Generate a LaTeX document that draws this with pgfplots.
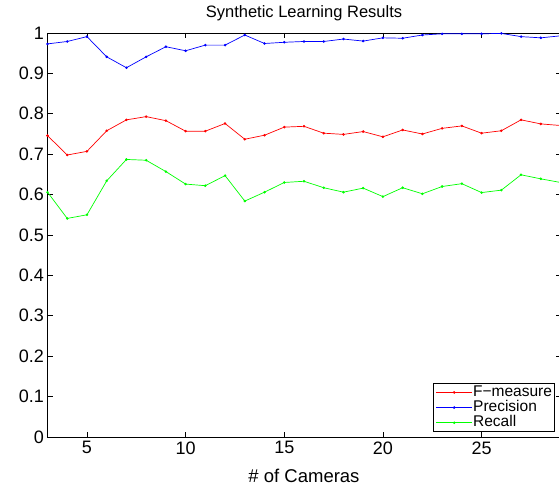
\documentclass[border=0pt]{standalone}
\usepackage{pgfplots}
\pgfplotsset{compat=1.18}
\usepackage{fontspec}
\setmainfont{Liberation Sans}
\begin{document}
\begin{tikzpicture}
\begin{axis}[
  scale only axis, width=513pt, height=404pt,
  xmin=3, xmax=29, ymin=0, ymax=1,
  xtick={5,10,15,20,25},
  ytick={0,0.1,0.2,0.3,0.4,0.5,0.6,0.7,0.8,0.9,1},
  yticklabels={0,0.1,0.2,0.3,0.4,0.5,0.6,0.7,0.8,0.9,1},
  tick align=inside, tick pos=both, major tick length=5pt,
  axis line style={line width=0.8pt}, every tick/.style={line width=0.6pt, black},
  /pgf/number format/assume math mode=true,
  ticklabel style={font=\fontsize{18}{20}\selectfont},
  xticklabel style={yshift=-1pt},
  title={Synthetic Learning Results},
  title style={at={(0.5,1)}, anchor=base, yshift=9pt, font=\fontsize{16.5}{18}\selectfont},
  xlabel={\# of Cameras},
  xlabel style={at={(0.5,0)}, anchor=base, yshift=-46pt, font=\fontsize{18.5}{20}\selectfont},
  legend style={at={(1,0)}, anchor=south east, xshift=-5.5pt, yshift=5pt,
    font=\fontsize{15.5}{15.5}\selectfont, draw=black, line width=0.8pt,
    inner xsep=2pt, inner ysep=1.2pt, row sep=0pt,
    nodes={inner sep=0.6pt, text height=10.8pt, text depth=3.2pt}},
  legend cell align=left,
  legend image code/.code={\draw[mark repeat=2,mark phase=2,#1] plot coordinates {(0pt,0pt)(18pt,0pt)(36pt,0pt)};},
  every axis plot/.append style={line width=0.7pt, mark=*, mark size=0.9pt},
]
\addplot[red, mark options={fill=red}] coordinates {
(3,0.746)(4,0.698)(5,0.707)(6,0.758)(7,0.785)(8,0.793)(9,0.783)(10,0.757)(11,0.757)(12,0.776)
(13,0.737)(14,0.747)(15,0.767)(16,0.769)(17,0.752)(18,0.749)(19,0.756)(20,0.743)(21,0.760)
(22,0.750)(23,0.764)(24,0.770)(25,0.752)(26,0.758)(27,0.785)(28,0.775)(29,0.771)};
\addlegendentry{F−measure}
\addplot[blue, mark options={fill=blue}] coordinates {
(3,0.973)(4,0.979)(5,0.991)(6,0.941)(7,0.914)(8,0.941)(9,0.966)(10,0.956)(11,0.970)(12,0.970)
(13,0.995)(14,0.974)(15,0.977)(16,0.979)(17,0.979)(18,0.985)(19,0.980)(20,0.988)(21,0.987)
(22,0.995)(23,0.998)(24,0.998)(25,0.998)(26,0.999)(27,0.991)(28,0.988)(29,0.993)};
\addlegendentry{Precision}
\addplot[green, mark options={fill=green}] coordinates {
(3,0.606)(4,0.541)(5,0.550)(6,0.634)(7,0.687)(8,0.685)(9,0.657)(10,0.626)(11,0.622)(12,0.647)
(13,0.584)(14,0.606)(15,0.630)(16,0.633)(17,0.617)(18,0.606)(19,0.616)(20,0.595)(21,0.617)
(22,0.602)(23,0.620)(24,0.627)(25,0.605)(26,0.611)(27,0.649)(28,0.639)(29,0.630)};
\addlegendentry{Recall}
\coordinate (sw) at (rel axis cs:0,0);
\coordinate (ne) at (rel axis cs:1,1);
\end{axis}
\pgfresetboundingbox
\path[use as bounding box] ([shift={(-47.5pt,-49pt)}]sw) rectangle ([shift={(-1.5pt,33pt)}]ne);
\end{tikzpicture}
\end{document}
